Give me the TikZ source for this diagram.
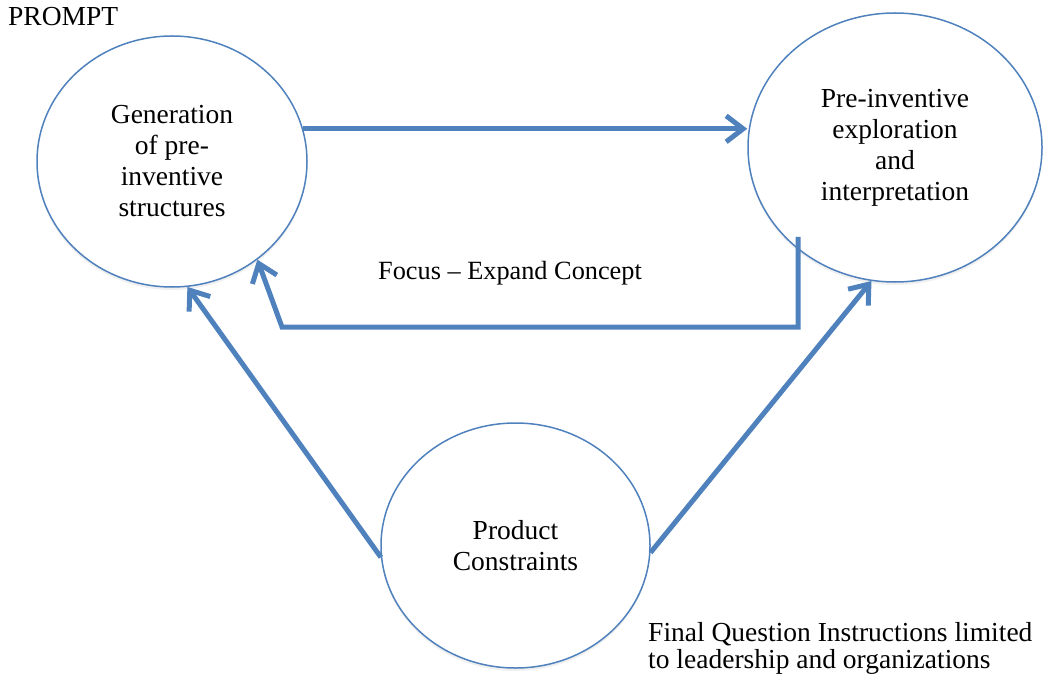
\documentclass[tikz,border=0pt]{standalone}
\usepackage{fontspec}
\setmainfont{Liberation Serif}
\usetikzlibrary{shapes.geometric,arrows.meta,shadows}
\definecolor{flowblue}{RGB}{79,129,189}
\tikzset{
  stage/.style={ellipse, draw=flowblue, line width=1.5pt, fill=white, inner sep=0pt,
    align=center, font=\fontsize{27.5}{31}\selectfont,
    drop shadow={shadow xshift=0pt, shadow yshift=-3pt, opacity=0.12}},
  flow/.style={draw=flowblue, line width=5pt, -{Straight Barb[length=17pt,width=26pt]}},
  note/.style={inner sep=0pt, font=\fontsize{27.5}{27}\selectfont}
}
\begin{document}
\begin{tikzpicture}[x=1pt,y=-1pt]
    \useasboundingbox (0,0) rectangle (1043,676);

    % Stages
    \node[stage, minimum width=270pt, minimum height=251pt] (gen) at (172,161.5) {Generation\\of pre-\\inventive\\structures};
    \node[stage, minimum width=294pt, minimum height=269pt] (exp) at (895,147.5) {Pre-inventive\\exploration\\and\\interpretation};
    \node[stage, minimum width=269pt, minimum height=245pt] (prod) at (515.5,545.5) {Product\\Constraints};

    % Feedback corners
    \coordinate (fbstart) at (798,237);
    \coordinate (fbcorner) at (282,327);

    % Draw arrows
    \draw[flow] (gen.14) -- (gen.14 -| exp.west);
    \draw[flow] (fbstart) -- (fbstart |- fbcorner) -- (fbcorner) -- (gen.-49);
    \draw[flow] (prod.185) -- (gen.-83);
    \draw[flow] (prod.-3) -- (exp.-100.5);

    % Labels
    \node[note, anchor=base west] (prompt) at (8,26) {PROMPT};
    \node[inner sep=0pt, anchor=base, font=\fontsize{26.3}{30}\selectfont] (focus) at (510,279) {Focus -- Expand Concept};
    \node[note, anchor=base west, align=left] (final) at (648,668) {Final Question Instructions limited\\to leadership and organizations};

\end{tikzpicture}
\end{document}
